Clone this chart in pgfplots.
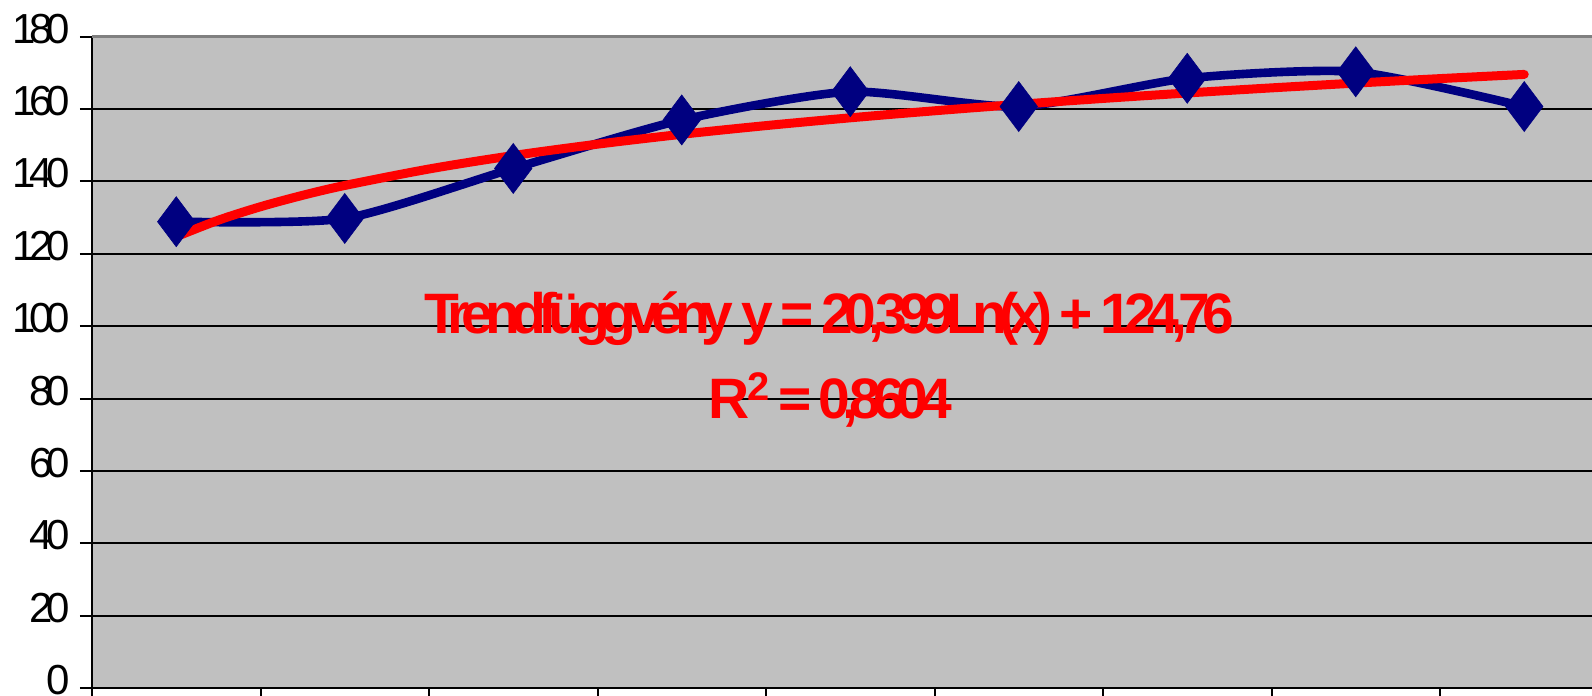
\documentclass[border=0pt]{standalone}
\usepackage{fontspec}
\setmainfont{Liberation Sans}
\newfontfamily\trendfont[LetterSpace=-14.5]{Liberation Sans}
\newfontfamily\tickfont[LetterSpace=-16]{Liberation Sans}
\usepackage{pgfplots}
\pgfplotsset{compat=1.18}
\definecolor{plotbg}{HTML}{C0C0C0}
\definecolor{navyblue}{HTML}{000080}
\definecolor{trendred}{HTML}{FF0000}
\definecolor{topgray}{HTML}{808080}
\begin{document}
\begin{tikzpicture}
\begin{axis}[
  name=ax,
  scale only axis,
  width=758.25pt, height=325.8pt,
  xmin=0.5, xmax=9.5, ymin=0, ymax=180,
  axis background/.style={fill=plotbg},
  axis x line*=bottom, axis y line*=left,
  axis line style={black, line width=1pt, -},
  xtick={0.5,1.5,...,9.5}, xticklabels={},
  ytick={0,20,...,180},
  tick align=outside, major tick length=6pt,
  tick style={black, line width=1pt},
  ymajorgrids, major grid style={black, line width=1pt},
  /pgf/number format/assume math mode=true,
  yticklabel style={font=\tickfont\fontsize{21pt}{24pt}\selectfont, anchor=east, inner sep=0pt, xshift=-5pt, yshift=4pt},
  clip=false,
]
\draw[topgray, line width=1.8pt] (rel axis cs:0,1) -- (rel axis cs:1.02,1);
\addplot[navyblue, line width=4.3pt, smooth, tension=0.4, mark=diamond*, mark size=12.5pt,
  mark options={solid, fill=navyblue, draw=navyblue, line width=0.3pt}]
  coordinates {(1,128.9) (2,129.8) (3,143.6) (4,157.0) (5,164.8) (6,160.7) (7,168.5) (8,170.3) (9,160.7)};
\addplot[trendred, line width=4.5pt, smooth, line cap=round, no marks]
  coordinates {(1,124.76) (1.25,129.31) (1.5,133.03) (1.75,136.18) (2,138.90) (2.5,143.45) (3,147.17) (3.5,150.31) (4,153.04) (4.5,155.44) (5,157.59) (5.5,159.53) (6,161.31) (6.5,162.94) (7,164.45) (7.5,165.86) (8,167.18) (8.5,168.42) (9,169.58)};
\node[anchor=base, inner sep=0pt, text=trendred, font=\trendfont\bfseries\fontsize{28.5pt}{30pt}\selectfont] at (axis cs:4.874,98.07) {Trendfüggvény y = 20,399Ln(x) + 124,76};
\node[anchor=base, inner sep=0pt, text=trendred, font=\trendfont\bfseries\fontsize{28.5pt}{30pt}\selectfont] at (axis cs:4.88,74.4) {R\kern-1pt\textsuperscript{2} = 0,8604};
\end{axis}
\pgfresetboundingbox
\path ([shift={(-46pt,-3.85pt)}]ax.south west) rectangle ([shift={(750pt,18.35pt)}]ax.north west);
\end{tikzpicture}
\end{document}
